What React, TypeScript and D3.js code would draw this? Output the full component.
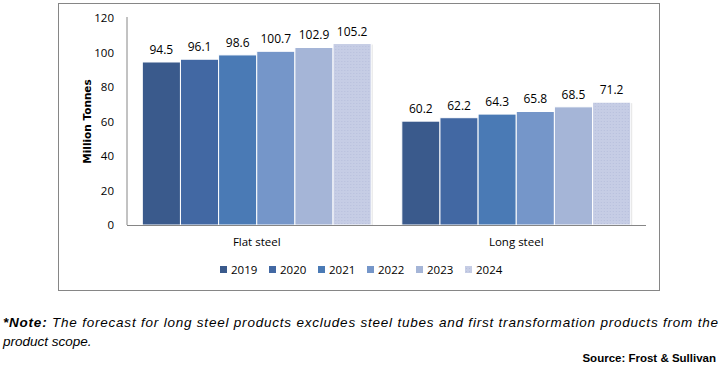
import React from "react";
import * as d3 from "d3";

const categories = ["Flat steel", "Long steel"];
const years = ["2019", "2020", "2021", "2022", "2023", "2024"];
const flatSteel = [94.5, 96.1, 98.6, 100.7, 102.9, 105.2];
const longSteel = [60.2, 62.2, 64.3, 65.8, 68.5, 71.2];
const yTicks = [0, 20, 40, 60, 80, 100, 120];
const colors = ["#3a5a8c", "#4268a3", "#4a7ab5", "#7596c9", "#a5b5d7", "#c6cde5"];

const seriesByCat = [flatSteel, longSteel];

export default function App() {
  const left = 127, right = 646, top = 18, bottom = 225;
  const font = "'Open Sans', 'DejaVu Sans', sans-serif";

  const x0 = d3.scaleBand().domain(categories).range([left, right])
    .paddingInner(0.118).paddingOuter(0.059);
  const x1 = d3.scaleBand().domain(years).range([0, x0.bandwidth()]);
  const y = d3.scaleLinear().domain([0, 120]).range([bottom, top]);

  const legendX = d3.scalePoint().domain(years).range([220, 465]);

  return (
    <div style={{ position: "absolute", left: 0, top: 0 }}>
      <svg width={722} height={366} style={{ display: "block" }}>
        <defs>
          <pattern id="dots" width="3" height="3" patternUnits="userSpaceOnUse">
            <rect width="3" height="3" fill={colors[5]} />
            <rect x="1" y="1" width="1" height="1" fill="#b7bfdc" />
          </pattern>
        </defs>
        <rect x={58.5} y={3.5} width={601} height={287} fill="#fff" stroke="#868686" strokeWidth={1} />

        {yTicks.map((t) => (
          <text key={t} x={114} y={y(t)} dy="0.35em" textAnchor="end"
            fontFamily={font} fontSize={11.5} fill="#000">{t}</text>
        ))}
        <text transform={`translate(91,${(top + bottom) / 2}) rotate(-90)`} textAnchor="middle"
          fontFamily="'DejaVu Sans', sans-serif" fontWeight="bold" fontSize={10.5}>Million Tonnes</text>

        {categories.map((c, ci) => (
          <g key={c} transform={`translate(${x0(c)},0)`}>
            {seriesByCat[ci].map((v, i) => (
              <g key={years[i]}>
                <rect x={x1(years[i])! + 1.5} y={y(v) + 1} width={x1.bandwidth()} height={bottom - y(v) - 1}
                  fill="#e4e4e4" />
                <rect x={x1(years[i])!} y={y(v)} width={x1.bandwidth()} height={bottom - y(v)}
                  fill={i === 5 ? "url(#dots)" : colors[i]} stroke="#fff" strokeWidth={1} />
                <text x={x1(years[i])! + x1.bandwidth() / 2} y={y(v) - 8} textAnchor="middle"
                  fontFamily={font} fontSize={12} fill="#000">{v.toFixed(1)}</text>
              </g>
            ))}
            <text x={x0.bandwidth() / 2} y={246} textAnchor="middle" fontFamily={font}
              fontSize={11.5} fill="#000">{c}</text>
          </g>
        ))}

        <line x1={left} x2={left} y1={top - 1} y2={bottom} stroke="#868686" />
        <line x1={left} x2={right} y1={bottom + 0.5} y2={bottom + 0.5} stroke="#868686" />

        {years.map((yr, i) => (
          <g key={yr} transform={`translate(${legendX(yr)},0)`}>
            <rect x={0} y={266} width={7} height={7} fill={i === 5 ? "url(#dots)" : colors[i]} />
            <text x={11} y={273.5} fontFamily={font} fontSize={11.5} fill="#000">{yr}</text>
          </g>
        ))}

        <text x={3} y={327} fontFamily="'Liberation Sans Narrow', 'Liberation Sans', sans-serif"
          fontStyle="italic" fontSize={13.5} textLength={715} lengthAdjust="spacing">
          <tspan fontWeight="bold">*Note:</tspan> The forecast for long steel products excludes steel tubes and first transformation products from the
        </text>
        <text x={3} y={346} fontFamily="'Liberation Sans Narrow', 'Liberation Sans', sans-serif"
          fontStyle="italic" fontSize={13.5}>product scope.</text>
        <text x={716} y={362} textAnchor="end" fontFamily="'Liberation Sans Narrow', 'Liberation Sans', sans-serif"
          fontWeight="bold" fontSize={11.5}>Source: Frost &amp; Sullivan</text>
      </svg>
    </div>
  );
}
